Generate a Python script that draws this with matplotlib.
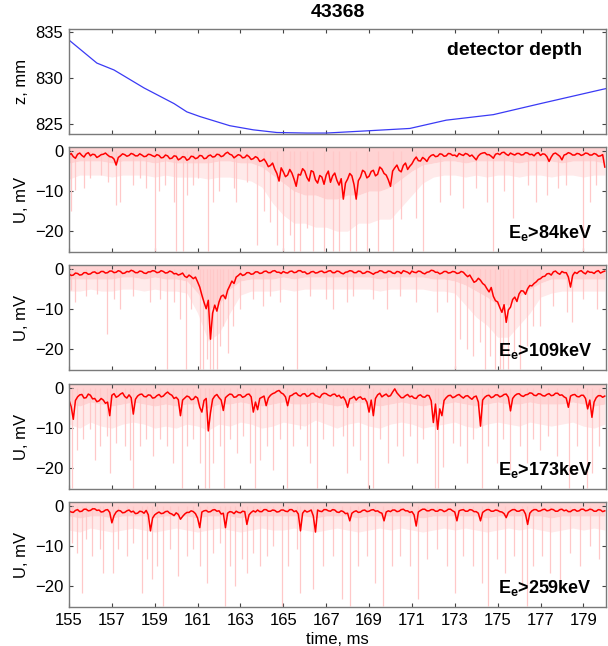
import numpy as np
import matplotlib
matplotlib.use('Agg')
import matplotlib.pyplot as plt

plt.rcParams['font.family'] = ['Liberation Sans', 'DejaVu Sans']
plt.rcParams['mathtext.fontset'] = 'custom'
plt.rcParams['mathtext.rm'] = 'Liberation Sans'
plt.rcParams['mathtext.bf'] = 'Liberation Sans:bold'

SHOT = '43368'

# detector depth, mm
z_time = [155.0, 156.3, 157.1, 158.5, 159.9, 160.5, 161.1, 162.5, 163.6, 164.7,
          166.1, 167.0, 168.9, 170.9, 172.6, 174.8, 177.0, 179.9, 180.1]
z_mm = [834.1, 831.6, 830.85, 828.9, 827.2, 826.3, 825.8, 824.8, 824.35, 824.06,
        824.0, 824.0, 824.24, 824.5, 825.4, 826.0, 827.2, 828.75, 828.85]

# smoothed detector signals, mV, every 0.1 ms from 155.0 to 180.0
u84 = [
    -1.0, -0.6, -1.4, -1.8, -0.8, -0.5, -1.1, -1.5, -0.7, -0.4, -1.2, -0.8, -0.9, -1.6, -1.3, -0.9, -0.8, -0.5, -1.0, -1.4,
    -1.5, -2.0, -3.5, -1.6, -1.2, -0.7, -0.9, -1.3, -1.1, -0.6, -0.8, -1.2, -1.2, -0.7, -1.0, -1.4, -1.3, -0.8, -0.9, -1.2,
    -1.4, -0.9, -1.1, -1.7, -1.6, -1.0, -1.2, -1.9, -1.8, -1.2, -1.3, -2.2, -1.9, -1.4, -1.5, -2.3, -2.0, -1.3, -1.4, -1.9,
    -1.7, -1.1, -1.2, -1.9, -1.8, -1.2, -1.0, -1.5, -1.4, -0.8, -0.9, -1.4, -1.2, -0.6, -0.3, -0.8, -1.0, -1.7, -1.3, -0.9,
    -1.1, -1.7, -1.6, -1.0, -1.4, -2.1, -1.9, -1.4, -1.7, -2.6, -2.4, -2.0, -2.8, -3.9, -3.6, -3.0, -4.5, -5.6, -7.5, -4.2,
    -5.2, -6.4, -6.0, -4.6, -5.5, -7.0, -8.8, -5.8, -6.0, -4.4, -5.0, -6.6, -7.5, -4.9, -5.2, -7.2, -8.0, -6.1, -6.5, -8.3,
    -6.0, -5.0, -7.8, -6.2, -5.5, -7.3, -8.5, -6.9, -12.0, -8.0, -7.0, -5.6, -6.2, -8.4, -12.0, -7.4, -6.5, -4.8, -5.2, -6.7,
    -6.3, -5.1, -4.8, -6.2, -5.8, -4.0, -4.5, -5.6, -6.0, -7.2, -8.8, -5.0, -4.2, -3.5, -4.8, -5.2, -3.6, -3.0, -4.6, -3.8,
    -3.2, -2.2, -1.5, -2.4, -2.5, -1.6, -2.0, -2.6, -1.6, -1.1, -0.9, -1.4, -1.3, -0.7, -0.8, -1.3, -1.2, -0.6, -0.7, -1.1,
    -1.0, -1.4, -0.6, -0.9, -1.1, -0.6, -0.8, -1.3, -1.0, -1.6, -2.2, -1.2, -0.7, -0.5, -0.4, -0.9, -0.9, -1.3, -1.8, -0.8,
    -0.6, -0.9, -0.4, -0.3, -0.8, -1.1, -0.5, -0.8, -1.0, -0.6, -0.6, -1.0, -0.9, -0.4, -0.5, -0.9, -0.8, -1.2, -0.6, -0.4,
    -1.1, -0.7, -0.8, -1.4, -2.6, -1.5, -0.7, -0.5, -0.9, -1.3, -2.2, -1.0, -0.8, -0.4, -0.6, -1.0, -1.0, -0.6, -0.7, -1.1,
    -0.9, -0.5, -0.6, -1.0, -1.0, -0.6, -0.8, -1.3, -1.2, -0.9, -4.0,
]
u109 = [
    -1.2, -1.6, -1.5, -1.0, -1.1, -1.5, -1.4, -0.9, -0.9, -1.3, -1.2, -0.8, -0.7, -1.1, -1.0, -0.6, -0.6, -1.0, -0.9, -0.5,
    -0.5, -0.9, -0.8, -0.4, -0.6, -1.1, -1.0, -0.6, -0.7, -0.3, -0.5, -0.9, -0.9, -0.5, -0.6, -1.0, -1.1, -0.7, -0.7, -0.4,
    -0.5, -0.9, -0.8, -0.4, -0.6, -1.0, -0.9, -0.5, -0.7, -1.2, -1.1, -1.5, -1.3, -1.0, -1.8, -2.1, -1.5, -1.9, -2.4, -2.0,
    -3.2, -4.5, -6.5, -8.3, -9.9, -7.8, -17.5, -11.0, -9.0, -10.5, -8.2, -6.8, -6.5, -7.4, -5.3, -4.2, -3.0, -3.6, -2.0, -1.6,
    -1.1, -1.6, -1.4, -0.9, -0.9, -1.3, -1.2, -0.7, -0.7, -1.1, -1.0, -0.6, -0.5, -0.9, -0.9, -0.5, -0.4, -0.8, -0.8, -1.1,
    -0.6, -0.9, -1.0, -0.6, -0.5, -0.9, -0.8, -0.4, -0.4, -0.8, -0.7, -1.2, -1.1, -0.7, -0.6, -1.0, -0.9, -0.6, -0.5, -0.9,
    -0.8, -0.5, -0.4, -0.9, -0.9, -0.5, -0.6, -1.0, -1.2, -0.8, -0.7, -0.4, -0.5, -0.9, -0.9, -0.5, -0.6, -1.1, -1.0, -0.6,
    -0.7, -1.0, -1.3, -0.9, -0.8, -0.4, -0.5, -0.9, -0.9, -0.5, -0.6, -1.0, -1.1, -0.6, -0.7, -1.1, -0.4, -0.6, -0.8, -1.2,
    -0.5, -0.8, -0.9, -0.5, -0.6, -1.0, -1.2, -0.8, -0.7, -0.3, -0.4, -0.8, -0.8, -1.2, -1.0, -0.6, -0.6, -1.0, -0.9, -0.6,
    -0.7, -1.1, -1.0, -0.6, -0.8, -1.4, -1.9, -1.5, -2.4, -3.3, -3.0, -2.3, -2.8, -3.6, -4.0, -4.9, -5.7, -4.6, -6.8, -7.9,
    -8.2, -9.6, -10.8, -8.9, -13.3, -10.2, -9.5, -7.6, -7.0, -8.1, -6.2, -5.4, -5.5, -6.3, -4.9, -4.1, -4.2, -3.6, -3.2, -2.6,
    -2.4, -1.9, -1.8, -1.2, -1.1, -1.5, -0.7, -0.5, -1.0, -1.3, -0.6, -0.9, -0.9, -2.0, -4.5, -1.6, -0.8, -1.1, -0.6, -0.4,
    -0.9, -1.2, -0.5, -0.8, -0.8, -1.1, -0.6, -0.4, -1.0, -0.7, -0.5,
]
u173 = [
    -3.0, -4.6, -7.8, -3.1, -2.2, -1.7, -1.6, -2.5, -2.4, -1.5, -1.8, -2.7, -2.6, -3.4, -3.2, -2.6, -3.0, -3.8, -3.5, -6.9,
    -1.8, -1.4, -2.3, -2.0, -1.5, -1.2, -2.1, -2.5, -1.7, -2.4, -6.5, -2.8, -2.0, -1.6, -1.5, -2.1, -2.2, -1.7, -1.8, -2.5,
    -2.4, -1.9, -1.6, -2.2, -2.0, -1.4, -1.0, -1.5, -1.8, -2.6, -2.3, -2.9, -6.9, -3.0, -2.5, -2.0, -2.2, -2.9, -2.8, -2.1,
    -2.5, -4.8, -6.0, -3.1, -2.6, -10.7, -6.2, -2.8, -2.0, -1.6, -2.4, -3.0, -5.6, -2.4, -1.9, -1.5, -1.6, -2.3, -2.2, -1.7,
    -1.7, -2.3, -2.1, -1.6, -1.5, -2.2, -6.0, -3.5, -5.4, -2.6, -2.3, -2.0, -4.4, -2.5, -1.8, -1.4, -1.2, -0.8, -0.6, -1.2,
    -1.5, -2.2, -4.4, -2.0, -1.8, -1.4, -1.2, -1.8, -2.0, -1.5, -1.4, -2.1, -1.9, -1.4, -1.3, -1.9, -2.1, -2.4, -1.6, -1.3,
    -1.4, -1.8, -2.0, -1.6, -1.5, -2.1, -1.8, -2.5, -2.2, -3.1, -4.8, -2.7, -2.5, -2.1, -3.0, -2.4, -2.2, -2.8, -2.6, -3.5,
    -6.0, -3.0, -6.9, -2.6, -1.7, -1.3, -2.2, -1.8, -1.5, -2.1, -1.9, -1.0, -0.2, -1.2, -1.8, -2.4, -2.4, -1.9, -1.6, -2.2,
    -2.0, -2.5, -2.6, -1.9, -1.7, -2.2, -2.3, -1.8, -1.9, -3.2, -8.6, -4.0, -10.3, -5.2, -6.9, -3.1, -2.4, -1.9, -1.8, -2.4,
    -2.2, -1.8, -1.6, -2.1, -2.5, -2.0, -1.9, -2.4, -2.8, -2.2, -2.0, -3.5, -9.5, -3.0, -2.3, -1.9, -1.8, -2.4, -2.2, -1.7,
    -1.7, -2.2, -2.0, -1.6, -1.5, -2.3, -5.7, -2.6, -1.9, -1.5, -1.4, -1.9, -2.1, -1.7, -1.6, -1.2, -1.3, -1.8, -1.9, -1.4,
    -1.5, -1.9, -2.0, -1.6, -1.4, -1.9, -1.8, -1.3, -1.3, -1.8, -1.7, -2.2, -2.5, -4.8, -2.0, -1.7, -1.6, -2.1, -2.2, -1.8,
    -1.8, -2.6, -5.2, -3.0, -7.3, -3.5, -2.4, -1.9, -1.9, -2.3, -2.0,
]
u259 = [
    -1.2, -1.5, -1.6, -1.1, -0.9, -1.4, -1.3, -0.8, -0.8, -1.2, -1.1, -0.7, -0.7, -1.1, -1.0, -1.5, -1.4, -1.0, -0.9, -1.6,
    -4.2, -2.4, -1.5, -1.1, -1.2, -1.7, -1.6, -1.2, -1.0, -1.5, -1.3, -1.9, -1.8, -1.3, -1.4, -1.8, -1.1, -2.2, -6.2, -3.0,
    -2.2, -1.8, -1.5, -1.9, -1.8, -1.4, -1.3, -1.8, -2.0, -2.4, -1.7, -2.1, -3.3, -2.6, -2.0, -1.6, -1.6, -1.2, -1.4, -1.9,
    -3.0, -5.4, -1.5, -1.2, -1.1, -1.5, -1.4, -1.0, -0.9, -1.3, -1.2, -2.0, -1.8, -5.4, -1.8, -1.4, -1.5, -1.9, -1.3, -1.6,
    -1.7, -1.3, -1.4, -4.6, -2.2, -1.6, -1.2, -1.5, -1.0, -1.4, -1.4, -0.9, -0.9, -1.3, -1.3, -1.0, -1.1, -1.5, -1.4, -1.0,
    -1.0, -1.3, -1.4, -0.9, -0.9, -1.4, -1.2, -2.0, -6.2, -1.8, -1.1, -1.5, -1.3, -1.0, -2.5, -6.5, -1.0, -1.3, -1.4, -0.9,
    -0.9, -1.2, -1.3, -0.9, -1.0, -1.5, -1.6, -1.2, -1.4, -1.9, -1.8, -3.7, -1.8, -1.4, -1.2, -1.6, -1.5, -1.1, -1.0, -1.4,
    -1.3, -1.0, -0.9, -1.3, -1.2, -1.6, -1.8, -3.7, -1.5, -1.2, -1.4, -1.0, -1.0, -1.4, -1.3, -0.9, -0.8, -1.2, -1.2, -1.6,
    -1.4, -2.2, -5.0, -1.5, -1.1, -0.8, -0.8, -1.2, -1.2, -0.9, -0.9, -1.3, -1.3, -0.9, -1.0, -1.4, -1.2, -0.8, -0.8, -1.2,
    -1.5, -3.7, -1.2, -1.0, -0.9, -1.3, -1.3, -0.9, -1.0, -1.4, -1.4, -1.8, -3.7, -1.6, -1.2, -0.9, -0.9, -1.3, -1.3, -1.0,
    -1.1, -1.4, -1.5, -1.9, -2.9, -1.6, -1.2, -0.9, -0.9, -1.3, -1.3, -1.0, -1.0, -2.0, -4.6, -1.8, -1.2, -0.9, -0.9, -1.3,
    -1.2, -0.9, -0.8, -1.2, -1.1, -0.8, -0.9, -1.3, -1.3, -0.9, -0.8, -1.2, -1.0, -1.4, -1.4, -1.0, -0.9, -1.3, -1.2, -0.8,
    -0.8, -1.2, -1.1, -0.8, -0.9, -1.3, -1.3, -0.9, -1.0, -1.4, -1.2,
]

# raw-signal spread, mV, every 0.5 ms from 155 to 180:
# core = where the raw trace is nearly solid, halo = its usual lower reach
core84 = [-3, -2.5, -2.5, -2.5, -3, -2.5, -2.5, -2.5, -3, -2.5,
          -3, -3, -3, -3, -2.5, -2.5, -3, -3, -4, -6,
          -8, -10, -11, -11, -12, -12, -11, -11, -10, -10,
          -9, -7, -5, -3.5, -3, -2.5, -2.5, -3, -2.5, -2.5,
          -2.5, -2.5, -3, -2.5, -2.5, -2.5, -3, -2.5, -2.5, -2.5, -3]
halo84 = [-7, -6, -6, -6, -6.5, -6, -6, -6, -6.5, -6,
          -6.5, -6.5, -6.5, -7, -6.5, -6.5, -7, -7.5, -9, -13,
          -16, -18, -18, -19, -19, -20, -20, -18, -18, -17,
          -17, -14, -11, -8, -6.5, -6, -6, -6.5, -6, -6.5,
          -6, -6, -6.5, -6, -6, -6.5, -6, -6, -6.5, -6, -6]
core109 = [-2.5, -2.5, -2.5, -2.5, -2.5, -2, -2, -2.5, -2, -2.5,
           -2.5, -3, -6, -10, -9, -5, -3, -2.5, -2.5, -2.5,
           -2, -2.5, -2, -2, -2, -2, -2, -2, -2, -2.5,
           -2, -2, -2, -2, -2.5, -2.5, -3, -4, -5.5, -7,
           -9, -9, -7, -5, -3.5, -2.5, -2.5, -2.5, -2.5, -2.5, -2.5]
halo109 = [-5.5, -5.5, -5, -5.5, -5.5, -5, -5, -5.5, -5, -5.5,
           -5.5, -6, -11, -18, -16, -11, -6.5, -5.5, -5.5, -5.5,
           -5, -5.5, -5, -5, -5, -5, -5, -5, -5, -5.5,
           -5, -5, -5, -5, -5.5, -5.5, -6, -9, -12, -14,
           -17, -17, -14, -11, -7, -6, -5.5, -5.5, -5.5, -5.5, -5.5]
core173 = [-4, -4.5, -3.5, -4, -4.5, -4, -3.5, -4, -4.5, -4,
           -4.5, -4, -4, -5, -4, -4, -3.5, -4, -4.5, -4,
           -3.5, -4, -4, -3.5, -4, -4.5, -4, -3.5, -4, -4.5,
           -4, -3.5, -4, -4.5, -4, -4, -3.5, -4, -4.5, -4,
           -3.5, -4, -4, -3.5, -4, -4, -4, -3.5, -4, -4.5, -4]
halo173 = [-9, -10, -8.5, -9.5, -10, -9, -8.5, -9, -10, -9.5,
           -10, -9, -9.5, -10.5, -9, -9.5, -8.5, -9, -10, -9.5,
           -8.5, -9, -9.5, -8, -9, -10, -9, -8.5, -9.5, -10,
           -9, -8.5, -9, -10, -9.5, -9, -8.5, -9.5, -10, -9,
           -8.5, -9, -9.5, -8.5, -9, -9.5, -9, -8.5, -9.5, -10, -9]
core259 = [-2.5, -3, -2.5, -2.5, -3, -2.5, -2.5, -2.5, -3, -2.5,
           -2.5, -2.5, -3, -2.5, -2.5, -2.5, -3, -2.5, -2.5, -2.5,
           -2.5, -2.5, -2.5, -3, -2.5, -2.5, -2.5, -3, -2.5, -2.5,
           -2.5, -2.5, -2.5, -3, -2.5, -2.5, -2.5, -2.5, -2.5, -3,
           -2.5, -2.5, -2.5, -2.5, -2.5, -3, -2.5, -2.5, -2.5, -2.5, -2.5]
halo259 = [-6, -6.5, -5.5, -6, -6.5, -6, -5.5, -6, -6.5, -6,
           -5.5, -6, -6.5, -6, -5.5, -6, -6.5, -6, -5.5, -6,
           -6, -5.5, -6, -6.5, -6, -5.5, -6, -6.5, -6, -5.5,
           -6, -5.5, -6, -6.5, -6, -5.5, -6, -5.5, -6, -6.5,
           -6, -5.5, -6, -5.5, -6, -6.5, -6, -5.5, -6, -5.5, -6]

# individual deep excursions of the raw signal: time (ms), depth (mV)
spk84_t = [155.1, 155.3, 155.7, 156.0, 156.5, 156.8, 157.2, 157.4, 158.0, 158.3,
           158.6, 159.0, 159.2, 159.5, 159.9, 160.0, 160.3, 160.5, 160.8, 161.0,
           161.5, 161.7, 162.0, 162.7, 162.8, 163.3, 163.76, 164.1, 164.4, 164.7,
           165.0, 165.3, 165.5, 165.8, 166.1, 166.4, 166.9, 167.3, 167.6, 168.1,
           168.4, 168.9, 169.4, 170.1, 170.5, 171.2, 171.5, 172.3, 172.8, 173.4,
           174.0, 174.5, 174.8, 175.3, 175.7, 176.4, 176.8, 177.3, 177.8, 178.2,
           179.0, 179.3, 179.6]
spk84_u = [-15, -9.8, -9.3, -6.8, -6, -7.7, -13.5, -12.7, -8.5, -6.8,
           -9.3, -25, -10, -8.5, -12.7, -25, -25, -11, -8.5, -6.8,
           -25, -12.7, -10, -9.3, -12.7, -7.7, -23.5, -15, -17.7, -23.5,
           -25, -21, -25, -25, -19.3, -25, -25, -25, -25, -25,
           -25, -25, -25, -25, -17, -16.8, -25, -12.7, -11, -14.3,
           -9.3, -12.7, -25, -10, -16.8, -8.5, -12.7, -11, -9.3, -8.5,
           -25, -12.7, -8.5]

spk109_t = [155.1, 155.3, 155.8, 156.3, 156.76, 157.1, 157.4, 158.0, 158.8, 159.25,
            159.56, 159.9, 160.2, 160.46, 160.7, 161.12, 161.27, 161.43, 161.58, 161.74,
            161.9, 162.05, 162.2, 162.44, 162.67, 162.98, 163.6, 164.07, 164.4, 164.85,
            165.63, 166.25, 167.0, 167.34, 167.96, 168.27, 169.2, 169.83, 170.45, 171.2,
            172.16, 172.63, 173.02, 173.25, 173.56, 173.87, 174.18, 174.42, 174.65, 174.88,
            175.09, 175.27, 175.5, 175.74, 176.05, 176.36, 176.67, 176.98, 177.6, 178.23,
            178.46, 179.0, 179.63]
spk109_u = [-5.3, -8.2, -6.6, -6.1, -16.2, -7.4, -9.9, -6.6, -8.2, -7.4,
            -25, -8.2, -12.4, -25, -9.9, -25, -25, -22.5, -25, -25,
            -25, -19.2, -14.1, -21, -14.1, -9.9, -7.4, -9.1, -6.6, -8.2,
            -25, -6.6, -7.4, -9.9, -8.2, -6.6, -7.4, -9.9, -6.6, -8.2,
            -10.8, -8.2, -25, -17.5, -20, -21.7, -18.3, -25, -21.7, -25,
            -25, -25, -25, -20.8, -25, -19.2, -14.1, -14.1, -9.1, -10.8,
            -13.3, -7.4, -9.9]

spk173_t = [155.12, 155.36, 155.67, 155.98, 156.21, 156.45, 156.76, 156.9, 157.2, 157.6,
            157.85, 158.0, 158.3, 158.6, 158.94, 159.25, 159.56, 159.87, 160.26, 160.5,
            160.8, 161.1, 161.35, 161.55, 161.74, 162.05, 162.24, 162.5, 162.83, 163.14,
            163.45, 163.68, 163.9, 164.23, 164.54, 164.85, 165.16, 165.47, 165.78, 166.09,
            166.25, 166.56, 166.87, 167.34, 167.8, 167.96, 168.27, 168.58, 168.97, 169.2,
            169.5, 169.9, 170.29, 170.6, 170.9, 171.23, 171.54, 172.08, 172.24, 172.47,
            172.94, 173.25, 173.56, 173.87, 174.26, 174.57, 174.96, 175.27, 175.58, 176.05,
            176.36, 176.67, 176.98, 177.37, 177.76, 178.31, 178.7, 179.16, 179.4, 179.71]
spk173_u = [-25, -15.4, -12.8, -10.3, -17.9, -14.5, -12.0, -21.3, -13.7, -14.5,
            -17.9, -25, -14.5, -12.8, -17.0, -12.8, -14.5, -18.7, -25, -14.5,
            -12.8, -18.7, -25, -25, -18.7, -14.5, -25, -12.8, -16.2, -12.0,
            -18.7, -25, -17.9, -14.5, -20.4, -12.8, -25, -14.5, -10.3, -14.5,
            -18.7, -25, -12.8, -14.5, -12.0, -21.3, -14.5, -17.9, -25, -25,
            -12.8, -18.7, -14.5, -17.0, -12.0, -18.7, -12.8, -25, -25, -19.6,
            -13.7, -14.5, -18.7, -12.8, -25, -14.5, -18.7, -12.8, -20.4, -14.5,
            -18.7, -12.8, -15.4, -12.0, -17.0, -25, -14.5, -25, -21.3, -14.5]

spk259_t = [155.12, 155.36, 155.6, 155.8, 156.06, 156.45, 156.6, 157.07, 157.3, 157.7,
            158.0, 158.4, 158.63, 158.86, 159.1, 159.4, 159.7, 160.1, 160.5, 160.8,
            161.1, 161.43, 161.74, 162.05, 162.28, 162.5, 162.75, 163.06, 163.3, 163.6,
            163.9, 164.23, 164.54, 164.93, 165.24, 165.63, 165.78, 166.4, 166.87, 167.34,
            167.73, 168.1, 168.5, 168.9, 169.28, 169.67, 170.06, 170.45, 170.9, 171.3,
            171.7, 172.16, 172.63, 173.02, 173.4, 173.87, 174.26, 174.57, 174.96, 175.35,
            175.74, 176.13, 176.36, 176.67, 177.06, 177.45, 177.92, 178.38, 178.85, 179.32,
            179.71]
spk259_u = [-9.2, -11.7, -21.7, -8.3, -12.5, -10.8, -16.7, -16.7, -10.8, -12.5,
            -9.2, -21.7, -13.3, -18.3, -15, -25, -10.8, -17.5, -12.5, -10.8,
            -15, -19.2, -11.7, -9.2, -25, -15, -20, -13.3, -16.7, -11.7,
            -15, -12.5, -10, -25, -15, -10.8, -21.7, -20.8, -15, -12.5,
            -23.3, -25, -15, -12.5, -19.2, -25, -15, -12.5, -15, -23.3,
            -13.3, -10.8, -15, -21.7, -12.5, -15, -19.2, -25, -13.3, -16.7,
            -12.5, -20, -25, -15, -12.5, -16.7, -20.8, -11.7, -15, -10,
            -13.3]

energies = ['84', '109', '173', '259']
signals = [u84, u109, u173, u259]
cores = [core84, core109, core173, core259]
halos = [halo84, halo109, halo173, halo259]
spikes = [(spk84_t, spk84_u), (spk109_t, spk109_u),
          (spk173_t, spk173_u), (spk259_t, spk259_u)]

RED = '#FF0000'
PINK_CORE = '#FFD3D3'
PINK_HALO = '#FFEAEA'
PINK_LINE = '#FFC8C8'
BLUE = '#3A3AF5'
FRAME = '#7A7A7A'

fig = plt.figure(figsize=(6.08, 6.46), dpi=100)
left, width, height = 0.1135, 0.883, 0.1625
bottoms = [0.7926, 0.6099, 0.4272, 0.2430, 0.0604]
axes = [fig.add_axes([left, b, width, height]) for b in bottoms]

xticks = np.arange(155, 180, 2)


def style_axis(ax, last):
    ax.set_xlim(155, 180.05)
    ax.set_xticks(xticks)
    ax.tick_params(direction='in', top=True, right=True, length=3,
                   width=0.8, color='#444444', labelsize=12, pad=4)
    if not last:
        ax.set_xticklabels([])
    for s in ax.spines.values():
        s.set_color(FRAME)
        s.set_linewidth(1.0)


# depth panel
ax = axes[0]
ax.plot(z_time, z_mm, color=BLUE, lw=0.9)
ax.set_ylim(823.9, 835.3)
ax.set_yticks([825, 830, 835])
ax.set_ylabel('z, mm', fontsize=12)
ax.text(178.95, 833.0, 'detector depth', ha='right', va='center',
        fontsize=14, fontweight='bold')
ax.set_title(SHOT, fontsize=14, fontweight='bold', pad=9)
style_axis(ax, False)

# detector channels
t_sig = 155 + 0.1 * np.arange(len(u84))
t_band = 155 + 0.5 * np.arange(len(core84))
for i, (ax, e, u, core, halo, (st, su)) in enumerate(
        zip(axes[1:], energies, signals, cores, halos, spikes)):
    ax.fill_between(t_band, halo, core, color=PINK_HALO, lw=0)
    ax.fill_between(t_band, core, 1.2, color=PINK_CORE, lw=0)
    ax.vlines(st, 0, su, color=PINK_LINE, lw=0.9)
    ax.plot(t_sig, u, color=RED, lw=1.1)
    ax.set_ylim(-25.2, 1.0)
    ax.set_yticks([-20, -10, 0])
    ax.set_ylabel('U, mV', fontsize=12)
    ax.text(179.4, -20.5, r'E$_{\mathbf{e}}$>' + e + 'keV', ha='right',
            va='center', fontsize=13, fontweight='bold')
    style_axis(ax, i == 3)

axes[-1].set_xlabel('time, ms', fontsize=12, labelpad=3)
for ax in axes:
    ax.yaxis.set_label_coords(-0.075, 0.5)

fig.savefig('out.png', dpi=100)
